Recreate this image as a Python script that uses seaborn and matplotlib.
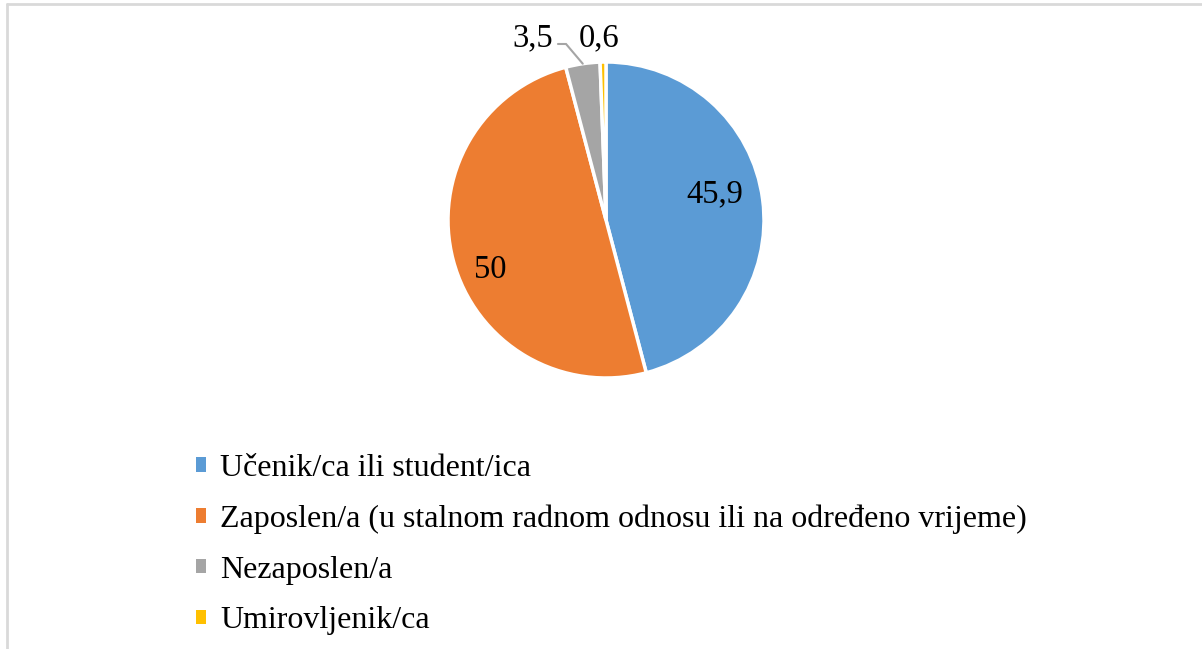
import numpy as np
import matplotlib
matplotlib.use("Agg")
import matplotlib.pyplot as plt
import seaborn as sns

sns.set_style("white")
plt.rcParams["font.family"] = ["Liberation Serif", "DejaVu Serif"]
plt.rcParams["text.color"] = "black"

categories = [
    "Učenik/ca ili student/ica",
    "Zaposlen/a (u stalnom radnom odnosu ili na određeno vrijeme)",
    "Nezaposlen/a",
    "Umirovljenik/ca",
]
values = [45.9, 50, 3.5, 0.6]
colors = ["#5B9BD5", "#ED7D31", "#A5A5A5", "#FFC000"]

W, H = 1202, 649
fig = plt.figure(figsize=(W / 100, H / 100), dpi=100)

# pie axes: centre (606, 220) px, radius 158 px
cx, cy, r = 606, 220, 158
ax = fig.add_axes([(cx - r) / W, (H - cy - r) / H, 2 * r / W, 2 * r / H])
wedges, _ = ax.pie(
    values, colors=colors, startangle=90, counterclock=False,
    wedgeprops=dict(edgecolor="white", linewidth=2.5), radius=1,
)
ax.set_xlim(-1, 1)
ax.set_ylim(-1, 1)
ax.set_aspect("equal")
ax.axis("off")

def fmt(v):
    return f"{v:g}".replace(".", ",")

# inside labels (radius, angle shift in degrees)
inside = {0: (0.71, 6), 1: (0.8, 8.5)}
for i, (rad, shift) in inside.items():
    w = wedges[i]
    mid = np.deg2rad((w.theta1 + w.theta2) / 2 + shift)
    ax.text(rad * np.cos(mid), rad * np.sin(mid), fmt(values[i]),
            ha="center", va="center", fontsize=23.5, color="black")

# outside labels for small slices
w = wedges[2]
mid = np.deg2rad((w.theta1 + w.theta2) / 2)
px, py = np.cos(mid), np.sin(mid)
ax.plot([px, -0.253, -0.304], [py, 1.114, 1.114],
        color="#A5A5A5", lw=1.5, clip_on=False, solid_joinstyle="miter")
ax.text(-0.335, 1.1, fmt(values[2]), ha="right", va="baseline", fontsize=23.5)

ax.text(-0.044, 1.1, fmt(values[3]), ha="center", va="baseline", fontsize=23.5)

# legend
leg = fig.legend(
    wedges, categories, loc="upper left", bbox_to_anchor=(183 / W, 1 - 441 / H),
    frameon=False, fontsize=23, handlelength=0.32, handleheight=0.32,
    handletextpad=0.45, labelspacing=0.68, borderaxespad=0,
)
for h in leg.legend_handles:
    h.set_edgecolor("none")

# chart frame (top and left edges visible)
fig.add_artist(plt.Line2D([6.5 / W, 1], [1 - 4 / H, 1 - 4 / H], transform=fig.transFigure,
                          color="#D9D9D9", lw=2))
fig.add_artist(plt.Line2D([6.5 / W, 6.5 / W], [0, 1 - 4 / H], transform=fig.transFigure,
                          color="#D9D9D9", lw=2))

fig.savefig("out.png", dpi=100, facecolor="white")
